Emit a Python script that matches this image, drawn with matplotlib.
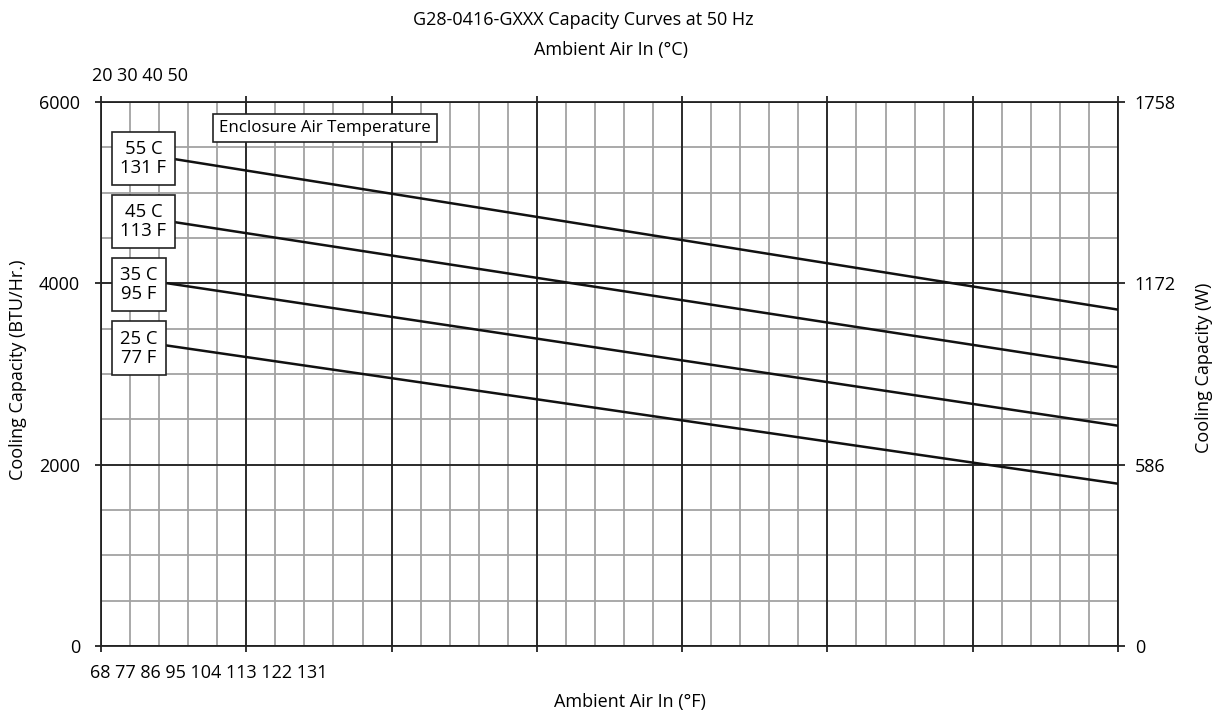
import matplotlib
matplotlib.use("Agg")
import matplotlib.pyplot as plt
import numpy as np

plt.rcParams['font.family'] = ['Open Sans', 'DejaVu Sans']

# ---- data ----
x_f_ticks = [68, 77, 86, 95, 104, 113, 122, 131]      # ambient air (°F) major ticks
x_c_labels = [20, 30, 40, 50]                          # ambient air (°C) labels
y_btu_ticks = [0, 2000, 4000, 6000]
y_w_labels = [0, 586, 1172, 1758]
curve_x = [70, 131]
curve_labels = ["55 C\n131 F", "45 C\n113 F", "35 C\n95 F", "25 C\n77 F"]
cap_55 = [5443, 3710]
cap_45 = [4745, 3075]
cap_35 = [4057, 2430]
cap_25 = [3368, 1790]
curves = [cap_55, cap_45, cap_35, cap_25]
label_y = [5375, 4680, 3990, 3285]

FS = 13
W, H = 1218, 717
fig = plt.figure(figsize=(W / 100, H / 100), dpi=100)
ax = fig.add_axes([101 / W, 1 - 646 / H, (1118 - 101) / W, (646 - 102) / H])

xmin, xmax = x_f_ticks[0], x_f_ticks[-1]
ax.set_xlim(xmin, xmax)
ax.set_ylim(0, 6000)

# grid
minor_x = np.linspace(xmin, xmax, 36)
for xv in minor_x:
    ax.axvline(xv, color='#a3a3a3', lw=1.3, zorder=1)
for xv in x_f_ticks:
    ax.axvline(xv, color='#222222', lw=1.3, zorder=1.5)
for yv in np.arange(0, 6001, 500):
    ax.axhline(yv, color='#a3a3a3', lw=1.3, zorder=1)
for yv in y_btu_ticks:
    ax.axhline(yv, color='#222222', lw=1.3, zorder=1.5)

for s in ax.spines.values():
    s.set_color('#222222')
    s.set_linewidth(1.3)

ax.set_xticks(x_f_ticks)
ax.set_xticklabels([])
ax.set_yticks(y_btu_ticks)
ax.set_yticklabels([str(v) for v in y_btu_ticks], fontsize=FS)
ax.tick_params(axis='both', length=4, width=1.3, color='#222222', pad=11)
ax.tick_params(axis='x', top=True)

# right axis
axr = ax.twinx()
axr.set_ylim(0, 6000)
axr.set_yticks(y_btu_ticks)
axr.set_yticklabels([str(v) for v in y_w_labels], fontsize=FS)
axr.tick_params(axis='y', length=5, width=1.3, color='#222222', pad=7)
for s in axr.spines.values():
    s.set_visible(False)

# curves
for vals in curves:
    ax.plot(curve_x, vals, color='#111111', lw=1.8, zorder=3)

# curve labels
box_style = dict(boxstyle='square,pad=0.45', fc='white', ec='#222222', lw=1.2)
for lab, ly in zip(curve_labels, label_y):
    ax.text(68 + 1.2, ly, lab, ha='left', va='center', fontsize=FS + 0.3,
            multialignment='center', linespacing=1.05, bbox=box_style, zorder=5)

ax.text(75.3, 5713, "Enclosure Air Temperature", ha='left', va='center', fontsize=12.2,
        bbox=dict(boxstyle='square,pad=0.35', fc='white', ec='#222222', lw=1.2), zorder=5)

# tick label strings (rendered as in the reference)
fig.text(90 / W, 1 - 673 / H, " ".join(str(v) for v in x_f_ticks), ha='left', va='center', fontsize=FS)
fig.text(92 / W, 1 - 76 / H, " ".join(str(v) for v in x_c_labels), ha='left', va='center', fontsize=FS)

# titles and axis labels
fig.text(583 / W, 1 - 20 / H, "G28-0416-GXXX Capacity Curves at 50 Hz", ha='center', va='center', fontsize=FS)
fig.text(611 / W, 1 - 50 / H, "Ambient Air In (°C)", ha='center', va='center', fontsize=FS)
fig.text(630 / W, 1 - 702 / H, "Ambient Air In (°F)", ha='center', va='center', fontsize=FS)
fig.text(18 / W, 1 - 370 / H, "Cooling Capacity (BTU/Hr.)", ha='center', va='center', rotation=90, fontsize=FS)
fig.text(1204 / W, 1 - 368 / H, "Cooling Capacity (W)", ha='center', va='center', rotation=90, fontsize=FS)

fig.savefig("out.png", dpi=100, facecolor='white')
